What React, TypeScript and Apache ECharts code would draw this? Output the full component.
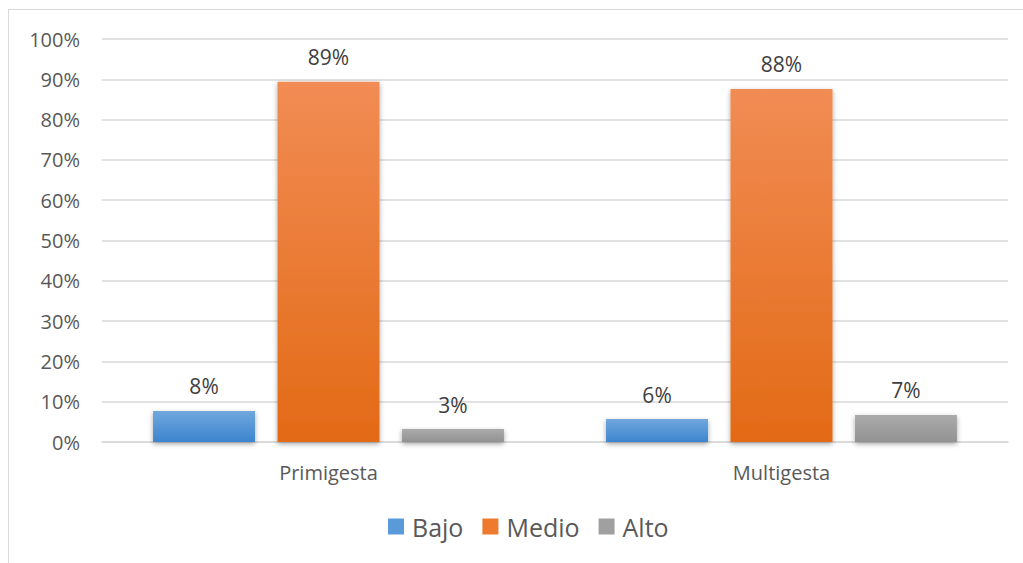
import React, { useEffect, useRef } from "react";
import * as echarts from "echarts";

const categories = ["Primigesta", "Multigesta"];
const seriesNames = ["Bajo", "Medio", "Alto"];
const bajo = [7.7, 5.7];
const medio = [89.4, 87.6];
const alto = [3.2, 6.7];
const yTicks = [0, 10, 20, 30, 40, 50, 60, 70, 80, 90, 100];

const FONT = "'Open Sans', Lato, sans-serif";

function grad(top: string, bottom: string) {
  return new echarts.graphic.LinearGradient(0, 0, 0, 1, [
    { offset: 0, color: top },
    { offset: 1, color: bottom },
  ]);
}

export default function App() {
  const ref = useRef<HTMLDivElement>(null);
  useEffect(() => {
    if (!ref.current) return;
    const chart = echarts.init(ref.current, undefined, { renderer: "svg" });
    const colors = [
      grad("#70a7dd", "#3c85cf"),
      grad("#f18c54", "#e36a16"),
      grad("#ababab", "#929292"),
    ];
    const legendColors = ["#5a9ad8", "#ee7a30", "#a0a0a0"];
    const data = [bajo, medio, alto];
    chart.setOption({
      animation: false,
      textStyle: { fontFamily: FONT },
      grid: { left: 93, top: 29, width: 906, height: 403 },
      legend: {
        bottom: 24,
        left: 379,
        padding: 0,
        icon: "rect",
        itemWidth: 16,
        itemHeight: 16,
        itemGap: 19,
        textStyle: { fontSize: 25, color: "#595959", fontFamily: FONT, padding: [0, 0, 0, 3] },
        data: seriesNames.map((n, i) => ({ name: n, itemStyle: { color: legendColors[i] } })),
      },
      xAxis: {
        type: "category",
        data: categories,
        axisLine: { show: true, lineStyle: { color: "#d9d9d9", width: 1.5 } },
        axisTick: { show: false },
        axisLabel: { fontSize: 20, color: "#595959", margin: 20, fontFamily: FONT },
      },
      yAxis: {
        type: "value",
        min: 0,
        max: 100,
        interval: 10,
        axisLine: { show: false },
        axisTick: { show: false },
        splitLine: { lineStyle: { color: "#d9d9d9", width: 1.5 } },
        axisLabel: {
          fontSize: 20,
          color: "#595959",
          margin: 22,
          fontFamily: FONT,
          formatter: (v: number) => (yTicks.includes(v) ? v + "%" : ""),
        },
      },
      series: seriesNames.map((name, i) => ({
        name,
        type: "bar",
        barWidth: 102,
        barGap: "22%",
        data: data[i],
        itemStyle: {
          color: colors[i],
          shadowBlur: 5,
          shadowColor: "rgba(0,0,0,0.35)",
          shadowOffsetY: 2,
        },
        label: {
          show: true,
          position: "top",
          distance: 14,
          fontSize: 21,
          color: "#404040",
          fontFamily: FONT,
          formatter: (p: any) => Math.round(p.value) + "%",
        },
      })),
    });
    return () => chart.dispose();
  }, []);
  return (
    <div
      style={{
        position: "absolute",
        left: 8,
        top: 9,
        width: 1014,
        height: 553,
        borderLeft: "1px solid #d9d9d9",
        borderTop: "1px solid #d9d9d9",
        background: "#fff",
      }}
    >
      <div ref={ref} style={{ width: 1014, height: 553 }} />
    </div>
  );
}
